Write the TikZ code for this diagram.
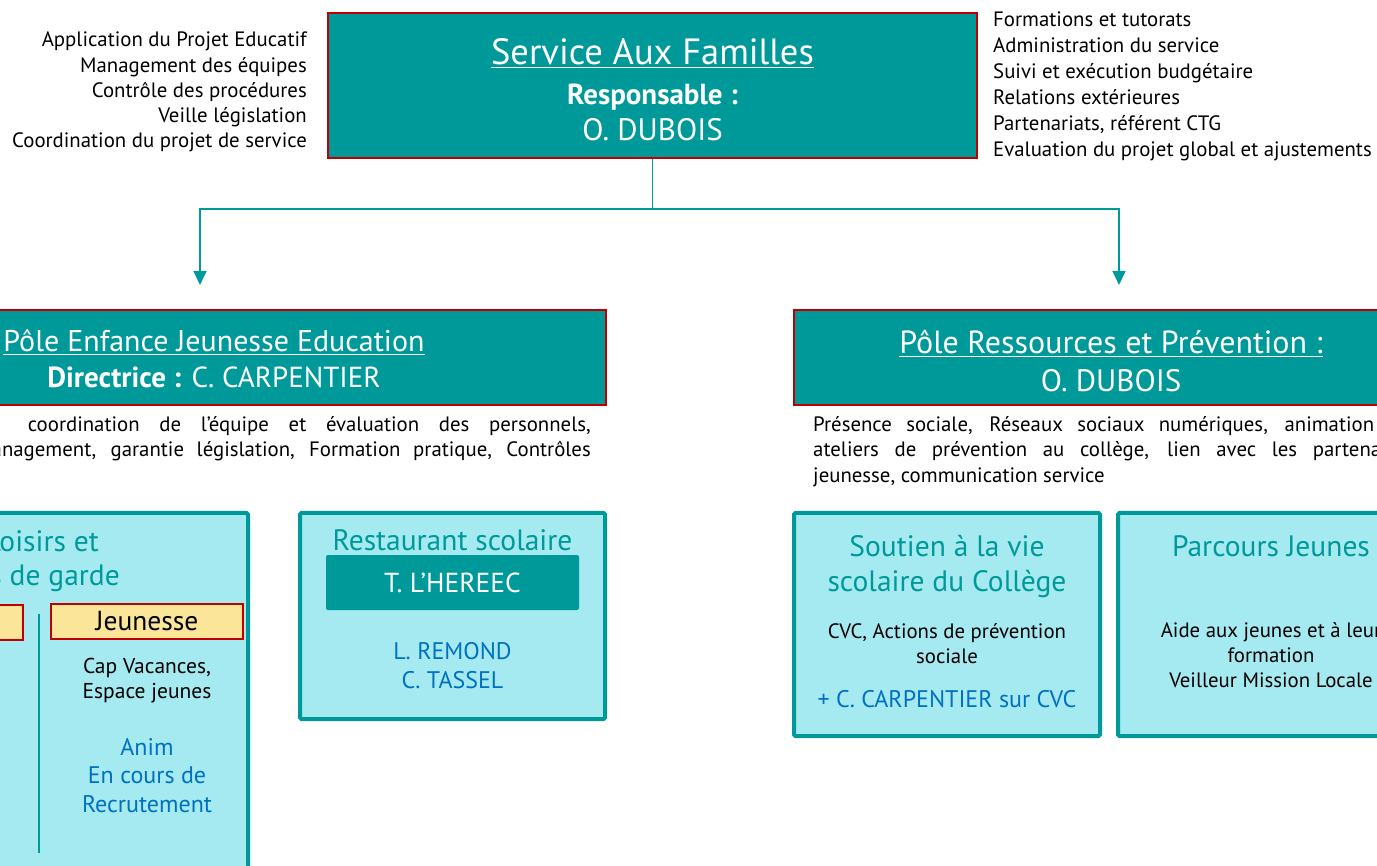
\documentclass[tikz,border=0pt]{standalone}
\usepackage{fontspec}
\setmainfont{PT Sans}
\usetikzlibrary{arrows.meta,positioning}

\definecolor{safteal}{RGB}{0,153,153}
\definecolor{saflight}{RGB}{165,234,241}
\definecolor{safred}{RGB}{192,0,0}
\definecolor{safblue}{RGB}{0,112,192}
\definecolor{safyellow}{RGB}{251,229,152}

\tikzset{
  headbox/.style={draw=safred, line width=2pt, fill=safteal, inner sep=0pt},
  unitbox/.style={draw=safteal, line width=4pt, fill=saflight, inner sep=0pt, rounded corners=1.5pt},
  tagbox/.style={draw=safred, line width=1.5pt, fill=safyellow, inner sep=0pt},
  namebox/.style={fill=safteal, inner sep=0pt, rounded corners=2pt},
  link/.style={draw=safteal, line width=1.5pt},
  bodytxt/.style={inner sep=0pt, anchor=base, font=\fontsize{20.8}{24}\selectfont},
  headtitle/.style={inner sep=0pt, anchor=base, text=white, font=\fontsize{36.5}{40}\selectfont},
  headname/.style={inner sep=0pt, anchor=base, text=white, font=\fontsize{31}{34}\selectfont},
  unittitle/.style={inner sep=0pt, anchor=base, text=safteal, font=\fontsize{29.5}{32}\selectfont},
  staff/.style={inner sep=0pt, anchor=base, text=safblue, font=\fontsize{24}{28}\selectfont}
}

\begin{document}
\begin{tikzpicture}[x=1pt,y=-1pt]
\useasboundingbox (0,0) rectangle (1377,866);
\clip (0,0) rectangle (1377,866);

% service aux familles
\node[headbox, minimum width=649, minimum height=145] (saf) at (652.5,85.5) {};
\node[headtitle] (saftitle) at (652.5,65) {\underline{Service Aux Familles}};
\node[headname, font=\bfseries\fontsize{29}{32}\selectfont] (safresp) at (652.5,105) {Responsable :};
\node[headname] (safname) at (652.5,141) {O. DUBOIS};

% missions du responsable
\foreach \t [count=\i] in {Application du Projet Educatif, Management des équipes,
    Contrôle des procédures, Veille législation, Coordination du projet de service}
  \node[bodytxt, anchor=base east] (safleft\i) at (307,21.5+25.3*\i) {\t};
\foreach \t [count=\i] in {Formations et tutorats, Administration du service,
    Suivi et exécution budgétaire, Relations extérieures,
    {Partenariats, référent CTG}, Evaluation du projet global et ajustements}
  \node[bodytxt, anchor=base west] (safright\i) at (993,1+26*\i) {\t};

% liaisons
\coordinate (fork) at (652.5,209);
\coordinate (pejin) at (200,285);
\coordinate (prpin) at (1119,285);
\draw[link] (saf.south) -- (fork);
\draw[link, -{Triangle[width=13pt,length=14pt]}] (fork) -| (pejin);
\draw[link, -{Triangle[width=13pt,length=14pt]}] (fork) -| (prpin);

% pole enfance jeunesse education
\node[headbox, minimum width=784, minimum height=95] (pej) at (214,357.5) {};
\node[headtitle, font=\fontsize{30}{33}\selectfont] (pejtitle) at (214,352) {\underline{Pôle Enfance Jeunesse Education}};
\node[headname, font=\fontsize{29}{32}\selectfont] (pejdir) at (214,388) {\bfseries Directrice :\mdseries{} C. CARPENTIER};
\node[bodytxt, anchor=base east] (pejdesc1) at (591,432)
  {\makebox[563pt][s]{coordination de l’équipe et évaluation des personnels,}};
\node[bodytxt, anchor=base east] (pejdesc2) at (591,457)
  {\makebox[616pt][s]{management, garantie législation, Formation pratique, Contrôles}};

% loisirs et modes de garde
\node[unitbox, minimum width=426, minimum height=385] (alsh) at (35,705.5) {};
\node[unittitle, anchor=base east] (alshtitle1) at (99,551) {Loisirs et};
\node[unittitle, anchor=base east] (alshtitle2) at (120,585) {Modes de garde};
\node[tagbox, minimum width=192, minimum height=35] (enfance) at (-73,622.5) {};
\node[tagbox, minimum width=192, minimum height=35] (jeunesse) at (147,621.5)
  {\fontsize{27.5}{30}\selectfont Jeunesse};
\draw[link] (39,614) -- (39,853);
\node[bodytxt, font=\fontsize{21.5}{24}\selectfont] (jeun1) at (147,673) {Cap Vacances,};
\node[bodytxt, font=\fontsize{21.5}{24}\selectfont] (jeun2) at (147,698) {Espace jeunes};
\node[staff] (anim1) at (147,755) {Anim};
\node[staff] (anim2) at (147,783) {En cours de};
\node[staff] (anim3) at (147,812) {Recrutement};

% restaurant scolaire
\node[unitbox, minimum width=305, minimum height=206] (resto) at (452.5,616) {};
\node[unittitle] (restotitle) at (452.5,550) {Restaurant scolaire};
\node[namebox, minimum width=253, minimum height=55] (restochef) at (452.5,582.5)
  {\fontsize{27.5}{30}\selectfont\color{white} T. L’HEREEC};
\node[staff] (resto1) at (452.5,659) {L. REMOND};
\node[staff] (resto2) at (452.5,688) {C. TASSEL};

% pole ressources et prevention
\node[headbox, minimum width=634, minimum height=95] (prp) at (1111,357.5) {};
\node[headtitle, font=\fontsize{32}{35}\selectfont] (prptitle) at (1111,354) {\underline{Pôle Ressources et Prévention :}};
\node[headname] (prpname) at (1111,392) {O. DUBOIS};
\node[bodytxt, anchor=base west] (prpdesc1) at (813,432)
  {\makebox[561pt][s]{Présence sociale, Réseaux sociaux numériques, animation}};
\node[bodytxt, anchor=base west] (prpdesc2) at (813,457)
  {\makebox[600pt][s]{ateliers de prévention au collège, lien avec les partenaires}};
\node[bodytxt, anchor=base west] (prpdesc3) at (813,483) {jeunesse, communication service};

% soutien a la vie scolaire
\node[unitbox, minimum width=306, minimum height=223] (cvc) at (947,624.5) {};
\node[unittitle] (cvctitle1) at (947,556) {Soutien à la vie};
\node[unittitle] (cvctitle2) at (947,591) {scolaire du Collège};
\node[bodytxt] (cvc1) at (947,638) {CVC, Actions de prévention};
\node[bodytxt] (cvc2) at (947,663) {sociale};
\node[staff] (cvc3) at (947,707) {+ C. CARPENTIER sur CVC};

% parcours jeunes
\node[unitbox, minimum width=306, minimum height=223] (pj) at (1271,624.5) {};
\node[unittitle] (pjtitle) at (1271,556) {Parcours Jeunes};
\node[bodytxt] (pj1) at (1271,637) {Aide aux jeunes et à leur};
\node[bodytxt] (pj2) at (1271,662) {formation};
\node[bodytxt] (pj3) at (1271,687) {Veilleur Mission Locale};
\end{tikzpicture}
\end{document}
